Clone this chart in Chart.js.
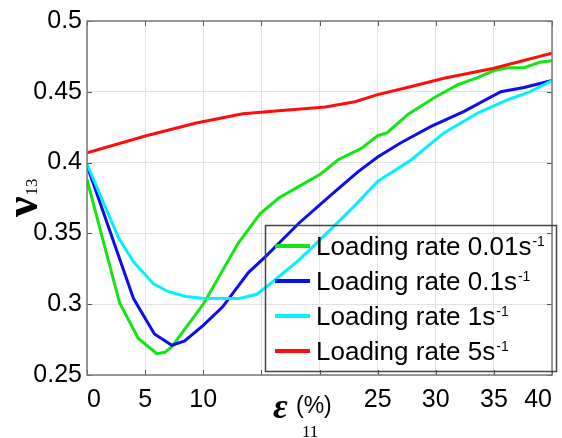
<!DOCTYPE html>
<html>
<head>
<meta charset="utf-8">
<script src="https://cdn.jsdelivr.net/npm/chart.js@4"></script>
<style>
  html, body { margin: 0; padding: 0; background: #fff; }
  #wrap { width: 562px; height: 438px; position: relative; }
</style>
</head>
<body>
<div id="wrap"><canvas id="nuChart"></canvas></div>
<script>
// === DATA: Poisson's ratio v13 vs strain e11 (%) ===
const rates = ['0.01', '0.1', '1', '5'];
const colors = ['#14e614', '#0d0df2', '#00f2ff', '#ff0d0d'];

const strain001 = [0, 2.8, 4.4, 6.0, 6.7, 7.3, 10.0, 13.0, 14.9, 16.5, 18.2, 20.1, 21.6, 23.6, 25.0, 25.8, 27.6, 29.9, 31.9, 33.6, 35.0, 36.2, 37.6, 39.0, 40];
const nu001 = [0.388, 0.301, 0.276, 0.265, 0.266, 0.270, 0.300, 0.343, 0.364, 0.375, 0.383, 0.392, 0.402, 0.410, 0.419, 0.421, 0.434, 0.446, 0.455, 0.460, 0.465, 0.467, 0.467, 0.471, 0.472];

const strain01 = [0, 4.0, 5.8, 7.3, 8.4, 10.0, 11.65, 13.9, 15.4, 16.5, 18.2, 21.05, 23.3, 25.0, 27.0, 29.6, 32.4, 35.6, 37.6, 40];
const nu01 = [0.398, 0.304, 0.279, 0.271, 0.274, 0.285, 0.298, 0.3225, 0.334, 0.343, 0.357, 0.3775, 0.3935, 0.404, 0.414, 0.4256, 0.436, 0.450, 0.453, 0.458];

const strain1 = [0, 2.7, 4.0, 5.7, 6.95, 8.5, 9.9, 13.1, 14.6, 15.4, 18.2, 21.05, 23.05, 25.0, 27.9, 30.7, 33.6, 36.2, 38.1, 40];
const nu1 = [0.399, 0.347, 0.330, 0.3145, 0.309, 0.3054, 0.3042, 0.304, 0.307, 0.312, 0.331, 0.3535, 0.3698, 0.3867, 0.402, 0.421, 0.435, 0.4444, 0.450, 0.458];

const strain5 = [0, 5.1, 9.4, 13.4, 16.5, 20.5, 23.05, 25.0, 27.9, 30.7, 35.0, 40];
const nu5 = [0.407, 0.419, 0.428, 0.4345, 0.4366, 0.4392, 0.443, 0.448, 0.4537, 0.4596, 0.4666, 0.4772];

const xTicks = [0, 5, 10, 15, 20, 25, 30, 35, 40];
const xTickLabels = ['0', '5', '10', '', '', '25', '30', '35', '40'];
const yTicks = [0.25, 0.3, 0.35, 0.4, 0.45, 0.5];
const yTickLabels = ['0.25', '0.3', '0.35', '0.4', '0.45', '0.5'];

const strains = [strain001, strain01, strain1, strain5];
const nus = [nu001, nu01, nu1, nu5];

const SANS = '"Liberation Sans", Arial, sans-serif';
const SERIF = '"Liberation Serif", "Times New Roman", serif';

// frame, inward ticks, axis titles and a see-through legend
const decorations = {
  id: 'decorations',
  afterDatasetsDraw(chart) {
    const { ctx, chartArea: a, scales } = chart;
    ctx.save();

    // inward tick marks on all four sides
    ctx.strokeStyle = '#555';
    ctx.lineWidth = 1;
    ctx.beginPath();
    xTicks.forEach(v => {
      const px = Math.round(scales.x.getPixelForValue(v)) + 0.5;
      ctx.moveTo(px, a.bottom); ctx.lineTo(px, a.bottom - 5);
      ctx.moveTo(px, a.top); ctx.lineTo(px, a.top + 5);
    });
    yTicks.forEach(v => {
      const py = Math.round(scales.y.getPixelForValue(v)) + 0.5;
      ctx.moveTo(a.left, py); ctx.lineTo(a.left + 5, py);
      ctx.moveTo(a.right, py); ctx.lineTo(a.right - 5, py);
    });
    ctx.stroke();

    // plot frame
    ctx.strokeStyle = '#7a7a7a';
    ctx.lineWidth = 1.5;
    ctx.strokeRect(a.left, a.top, a.right - a.left, a.bottom - a.top);

    // legend (transparent background)
    ctx.strokeStyle = '#444';
    ctx.lineWidth = 1.5;
    ctx.strokeRect(265.5, 225.5, 291, 146);
    const rows = [246, 281, 316, 351];
    rates.forEach((r, i) => {
      const y = rows[i];
      ctx.strokeStyle = colors[i];
      ctx.lineWidth = 4;
      ctx.beginPath();
      ctx.moveTo(275, y); ctx.lineTo(310, y);
      ctx.stroke();
      const base = 'Loading rate ' + r + 's';
      ctx.fillStyle = '#000';
      ctx.textAlign = 'left';
      ctx.textBaseline = 'alphabetic';
      ctx.font = '26px ' + SANS;
      ctx.fillText(base, 316, y + 9);
      const w = ctx.measureText(base).width;
      ctx.font = '14px ' + SANS;
      ctx.fillText('-1', 316 + w + 1, y);
    });

    // x axis title: epsilon_11 (%)
    ctx.fillStyle = '#000';
    ctx.font = 'bold italic 36px ' + SERIF;
    ctx.fillText('\u03b5', 273, 418);
    ctx.font = '23px ' + SANS;
    ctx.fillText('(%)', 296, 413);
    ctx.font = '17px ' + SERIF;
    ctx.fillText('11', 302, 437);

    // y axis title: nu_13, rotated
    ctx.translate(37, 217);
    ctx.rotate(-Math.PI / 2);
    ctx.font = 'bold 46px ' + SERIF;
    ctx.fillText('\u03bd', 0, 0);
    const nw = ctx.measureText('\u03bd').width;
    ctx.font = '17px ' + SERIF;
    ctx.fillText('13', nw + 1, 0);

    ctx.restore();
  }
};

new Chart(document.getElementById('nuChart'), {
  type: 'line',
  data: {
    datasets: rates.map((r, i) => ({
      label: 'Loading rate ' + r + 's\u207b\u00b9',
      data: strains[i].map((x, k) => ({ x: x, y: nus[i][k] })),
      borderColor: colors[i],
      borderWidth: 3,
      pointRadius: 0,
      tension: 0,
      fill: false,
      order: 3 - i   // later series on top
    }))
  },
  options: {
    responsive: true,
    maintainAspectRatio: false,
    animation: false,
    layout: { padding: { top: 21, right: 7, left: 0, bottom: 0 } },
    plugins: {
      legend: { display: false },
      tooltip: { enabled: false }
    },
    scales: {
      x: {
        type: 'linear',
        min: 0,
        max: 40,
        afterBuildTicks: s => { s.ticks = xTicks.map(v => ({ value: v })); },
        afterFit: s => { s.height = 63; },
        grid: { color: '#e2e2e2', lineWidth: 1, drawTicks: false },
        border: { display: false },
        ticks: {
          color: '#000',
          padding: 10,
          align: 'inner',
          maxRotation: 0,
          autoSkip: false,
          font: { family: SANS, size: 25 },
          callback: (v, i) => xTickLabels[i]
        }
      },
      y: {
        min: 0.25,
        max: 0.5,
        afterBuildTicks: s => { s.ticks = yTicks.map(v => ({ value: v })); },
        afterFit: s => { s.width = 87; },
        grid: { color: '#e2e2e2', lineWidth: 1, drawTicks: false },
        border: { display: false },
        ticks: {
          color: '#000',
          padding: 5,
          autoSkip: false,
          font: { family: SANS, size: 25 },
          callback: (v, i) => yTickLabels[i]
        }
      }
    }
  },
  plugins: [decorations]
});
</script>
</body>
</html>
